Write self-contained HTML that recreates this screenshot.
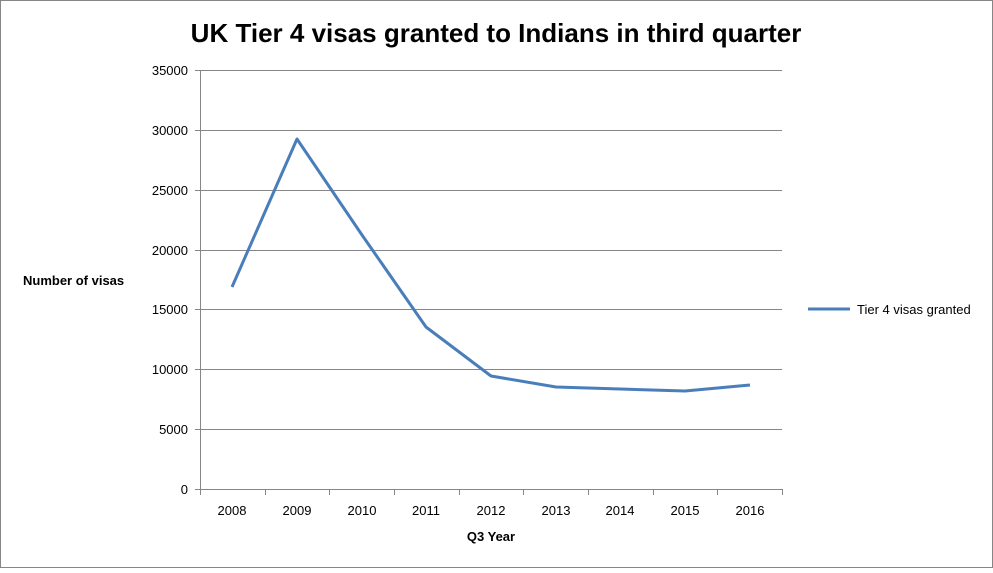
<!DOCTYPE html>
<html><head><style>
html,body{margin:0;padding:0;background:#fff;}
svg text{font-family:"Liberation Sans",Arial,sans-serif;}
</style></head><body>
<svg width="993" height="568" viewBox="0 0 993 568" xmlns="http://www.w3.org/2000/svg">
<rect x="0.5" y="0.5" width="992" height="567" fill="#fff" stroke="#868686"/>
<text x="496" y="42" text-anchor="middle" font-size="26" font-weight="bold" fill="#000">UK Tier 4 visas granted to Indians in third quarter</text>
<g stroke="#868686" stroke-width="1">
<line x1="200" y1="70.5" x2="782" y2="70.5"/>
<line x1="200" y1="130.5" x2="782" y2="130.5"/>
<line x1="200" y1="190.5" x2="782" y2="190.5"/>
<line x1="200" y1="250.5" x2="782" y2="250.5"/>
<line x1="200" y1="309.5" x2="782" y2="309.5"/>
<line x1="200" y1="369.5" x2="782" y2="369.5"/>
<line x1="200" y1="429.5" x2="782" y2="429.5"/>
<line x1="200" y1="489.5" x2="782" y2="489.5"/>
<line x1="200.5" y1="70" x2="200.5" y2="489"/>
<line x1="195" y1="70.5" x2="200" y2="70.5"/>
<line x1="195" y1="130.5" x2="200" y2="130.5"/>
<line x1="195" y1="190.5" x2="200" y2="190.5"/>
<line x1="195" y1="250.5" x2="200" y2="250.5"/>
<line x1="195" y1="309.5" x2="200" y2="309.5"/>
<line x1="195" y1="369.5" x2="200" y2="369.5"/>
<line x1="195" y1="429.5" x2="200" y2="429.5"/>
<line x1="195" y1="489.5" x2="200" y2="489.5"/>
<line x1="200.5" y1="489" x2="200.5" y2="495"/>
<line x1="265.5" y1="489" x2="265.5" y2="495"/>
<line x1="329.5" y1="489" x2="329.5" y2="495"/>
<line x1="394.5" y1="489" x2="394.5" y2="495"/>
<line x1="459.5" y1="489" x2="459.5" y2="495"/>
<line x1="523.5" y1="489" x2="523.5" y2="495"/>
<line x1="588.5" y1="489" x2="588.5" y2="495"/>
<line x1="653.5" y1="489" x2="653.5" y2="495"/>
<line x1="717.5" y1="489" x2="717.5" y2="495"/>
<line x1="782.5" y1="489" x2="782.5" y2="495"/>
</g>
<g font-size="13" fill="#000" text-anchor="end">
<text x="188" y="75">35000</text>
<text x="188" y="135">30000</text>
<text x="188" y="195">25000</text>
<text x="188" y="255">20000</text>
<text x="188" y="314">15000</text>
<text x="188" y="374">10000</text>
<text x="188" y="434">5000</text>
<text x="188" y="494">0</text>
</g>
<g font-size="13" fill="#000" text-anchor="middle">
<text x="232" y="515">2008</text>
<text x="297" y="515">2009</text>
<text x="362" y="515">2010</text>
<text x="426" y="515">2011</text>
<text x="491" y="515">2012</text>
<text x="556" y="515">2013</text>
<text x="620" y="515">2014</text>
<text x="685" y="515">2015</text>
<text x="750" y="515">2016</text>
</g>
<text x="491" y="541" text-anchor="middle" font-size="13" font-weight="bold">Q3 Year</text>
<text x="23" y="285" font-size="13" font-weight="bold">Number of visas</text>
<polyline fill="none" stroke="#4a7ebb" stroke-width="3" stroke-linejoin="round" points="232,287 297,139 362,235 426,327 491,376 556,387 620,389 685,391 750,385"/>
<line x1="808" y1="309" x2="850" y2="309" stroke="#4a7ebb" stroke-width="3"/>
<text x="857" y="314" font-size="13">Tier 4 visas granted</text>
</svg>
</body></html>
